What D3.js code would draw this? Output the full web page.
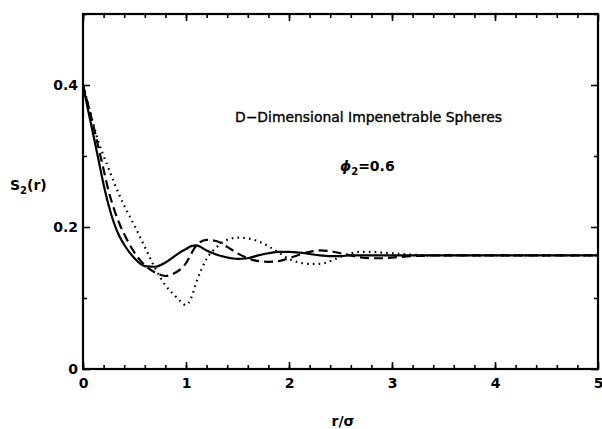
<!DOCTYPE html>
<html>
<head>
<meta charset="utf-8">
<script src="https://cdn.jsdelivr.net/npm/d3@7"></script>
<style>
  body { margin: 0; background: #fff; }
  svg text { fill: #000; }
</style>
</head>
<body>
<svg id="chart"></svg>
<script>
// r/sigma grid shared by the three curves
const rValues = [0, 0.05, 0.1, 0.15, 0.2, 0.25, 0.3, 0.35, 0.4, 0.5, 0.6, 0.7, 0.8, 0.9, 0.95, 1.0, 1.05, 1.1,
  1.2, 1.3, 1.4, 1.5, 1.6, 1.7, 1.8, 1.9, 2.0, 2.1, 2.2, 2.3, 2.4, 2.5, 2.6, 2.7, 2.8, 2.9, 3.0, 3.2, 3.4, 3.6, 4.0, 4.5, 5.0];

// S2(r)
const solidS2 = [0.400, 0.364, 0.330, 0.295, 0.260, 0.230, 0.206, 0.188, 0.175, 0.156, 0.145, 0.144, 0.150, 0.160, 0.165, 0.169, 0.173, 0.174,
  0.167, 0.161, 0.157, 0.155, 0.156, 0.160, 0.163, 0.165, 0.165, 0.164, 0.162, 0.160, 0.159, 0.159, 0.160, 0.160, 0.160, 0.160, 0.160, 0.160, 0.160, 0.160, 0.160, 0.160, 0.160];
const dashedS2 = [0.400, 0.372, 0.343, 0.312, 0.281, 0.250, 0.226, 0.206, 0.190, 0.164, 0.146, 0.136, 0.131, 0.136, 0.141, 0.149, 0.162, 0.174,
  0.182, 0.180, 0.172, 0.163, 0.156, 0.152, 0.151, 0.152, 0.156, 0.161, 0.165, 0.167, 0.166, 0.163, 0.160, 0.157, 0.156, 0.156, 0.157, 0.159, 0.160, 0.160, 0.160, 0.160, 0.160];
const dottedS2 = [0.400, 0.373, 0.345, 0.320, 0.300, 0.282, 0.263, 0.246, 0.230, 0.202, 0.172, 0.142, 0.118, 0.102, 0.095, 0.090, 0.100, 0.122,
  0.155, 0.172, 0.182, 0.185, 0.184, 0.180, 0.173, 0.164, 0.155, 0.150, 0.148, 0.148, 0.152, 0.158, 0.163, 0.165, 0.165, 0.164, 0.163, 0.161, 0.160, 0.160, 0.160, 0.160, 0.160];

const xMajorTicks = [0, 1, 2, 3, 4, 5];
const xMinorTicks = d3.range(0, 25).map(i => i * 0.2);
const yMajorTicks = [0, 0.2, 0.4];
const yMinorTicks = [0.1, 0.3, 0.5];

const titleText = "D\u2212Dimensional Impenetrable Spheres";

const width = 602, height = 429;
const svg = d3.select("#chart").attr("width", width).attr("height", height);

const x = d3.scaleLinear().domain([0, 5]).range([83, 598]);
const y = d3.scaleLinear().domain([0, 0.5]).range([369, 14]);

const numFmt = d => d === 0 ? "0" : d3.format(".1f")(d);

// ticks point inward on all four sides
function tickGroup(axis, translate, isLabelled) {
  const g = svg.append("g")
    .attr("transform", translate)
    .call(axis);
  g.select(".domain").remove();
  g.selectAll("line").attr("stroke", "#000").attr("stroke-width", 1.6);
  g.selectAll("text")
    .attr("font-family", "DejaVu Sans")
    .attr("font-weight", "bold")
    .attr("font-size", 14);
  if (!isLabelled) g.selectAll("text").remove();
  return g;
}

tickGroup(d3.axisBottom(x).tickValues(xMajorTicks).tickSize(-7).tickPadding(9).tickFormat(d3.format("d")), "translate(0,369)", true);
tickGroup(d3.axisBottom(x).tickValues(xMinorTicks).tickSize(-4).tickFormat(""), "translate(0,369)", false);
tickGroup(d3.axisTop(x).tickValues(xMajorTicks).tickSize(-7).tickFormat(""), "translate(0,14)", false);
tickGroup(d3.axisTop(x).tickValues(xMinorTicks).tickSize(-4).tickFormat(""), "translate(0,14)", false);

tickGroup(d3.axisLeft(y).tickValues(yMajorTicks).tickSize(-7).tickPadding(5).tickFormat(numFmt), "translate(83,0)", true);
tickGroup(d3.axisLeft(y).tickValues(yMinorTicks).tickSize(-4).tickFormat(""), "translate(83,0)", false);
tickGroup(d3.axisRight(y).tickValues(yMajorTicks).tickSize(-7).tickFormat(""), "translate(598,0)", false);
tickGroup(d3.axisRight(y).tickValues(yMinorTicks).tickSize(-4).tickFormat(""), "translate(598,0)", false);

// frame
svg.append("rect")
  .attr("x", x(0)).attr("y", y(0.5))
  .attr("width", x(5) - x(0)).attr("height", y(0) - y(0.5))
  .attr("fill", "none")
  .attr("stroke", "#000")
  .attr("stroke-width", 2.2);

const line = d3.line()
  .x(d => x(d[0]))
  .y(d => y(d[1]))
  .curve(d3.curveMonotoneX);

const series = [
  { values: dottedS2, dash: "1.6,4.2", cap: "butt", w: 2.2 },
  { values: dashedS2, dash: "9,5", cap: "butt", w: 2.2 },
  { values: solidS2, dash: null, cap: "round", w: 2.2 }
];

series.forEach(s => {
  svg.append("path")
    .datum(rValues.map((r, i) => [r, s.values[i]]))
    .attr("d", line)
    .attr("fill", "none")
    .attr("stroke", "#000")
    .attr("stroke-width", s.w)
    .attr("stroke-linecap", s.cap)
    .attr("stroke-dasharray", s.dash);
});

// annotations
svg.append("text")
  .attr("x", 235).attr("y", 122)
  .attr("font-family", "DejaVu Sans")
  .attr("font-size", 13.5)
  .attr("stroke", "#000")
  .attr("stroke-width", 0.35)
  .attr("textLength", 267)
  .attr("lengthAdjust", "spacingAndGlyphs")
  .text(titleText);

const phi = svg.append("text")
  .attr("x", 340).attr("y", 171)
  .attr("font-family", "DejaVu Sans")
  .attr("font-weight", "bold")
  .attr("font-size", 14);
phi.append("tspan").attr("font-style", "italic").text("\u03d5");
phi.append("tspan").attr("font-size", 10).attr("dy", 4).text("2");
phi.append("tspan").attr("dy", -4).text("=0.6");

// axis titles
const yTitle = svg.append("text")
  .attr("x", 10).attr("y", 190)
  .attr("font-family", "DejaVu Sans")
  .attr("font-weight", "bold")
  .attr("font-size", 14);
yTitle.append("tspan").text("S");
yTitle.append("tspan").attr("font-size", 10).attr("dy", 4).text("2");
yTitle.append("tspan").attr("dy", -4).text("(r)");

svg.append("text")
  .attr("x", 343).attr("y", 426)
  .attr("text-anchor", "middle")
  .attr("font-family", "DejaVu Sans")
  .attr("font-weight", "bold")
  .attr("font-size", 14)
  .text("r/\u03c3");
</script>
</body>
</html>
